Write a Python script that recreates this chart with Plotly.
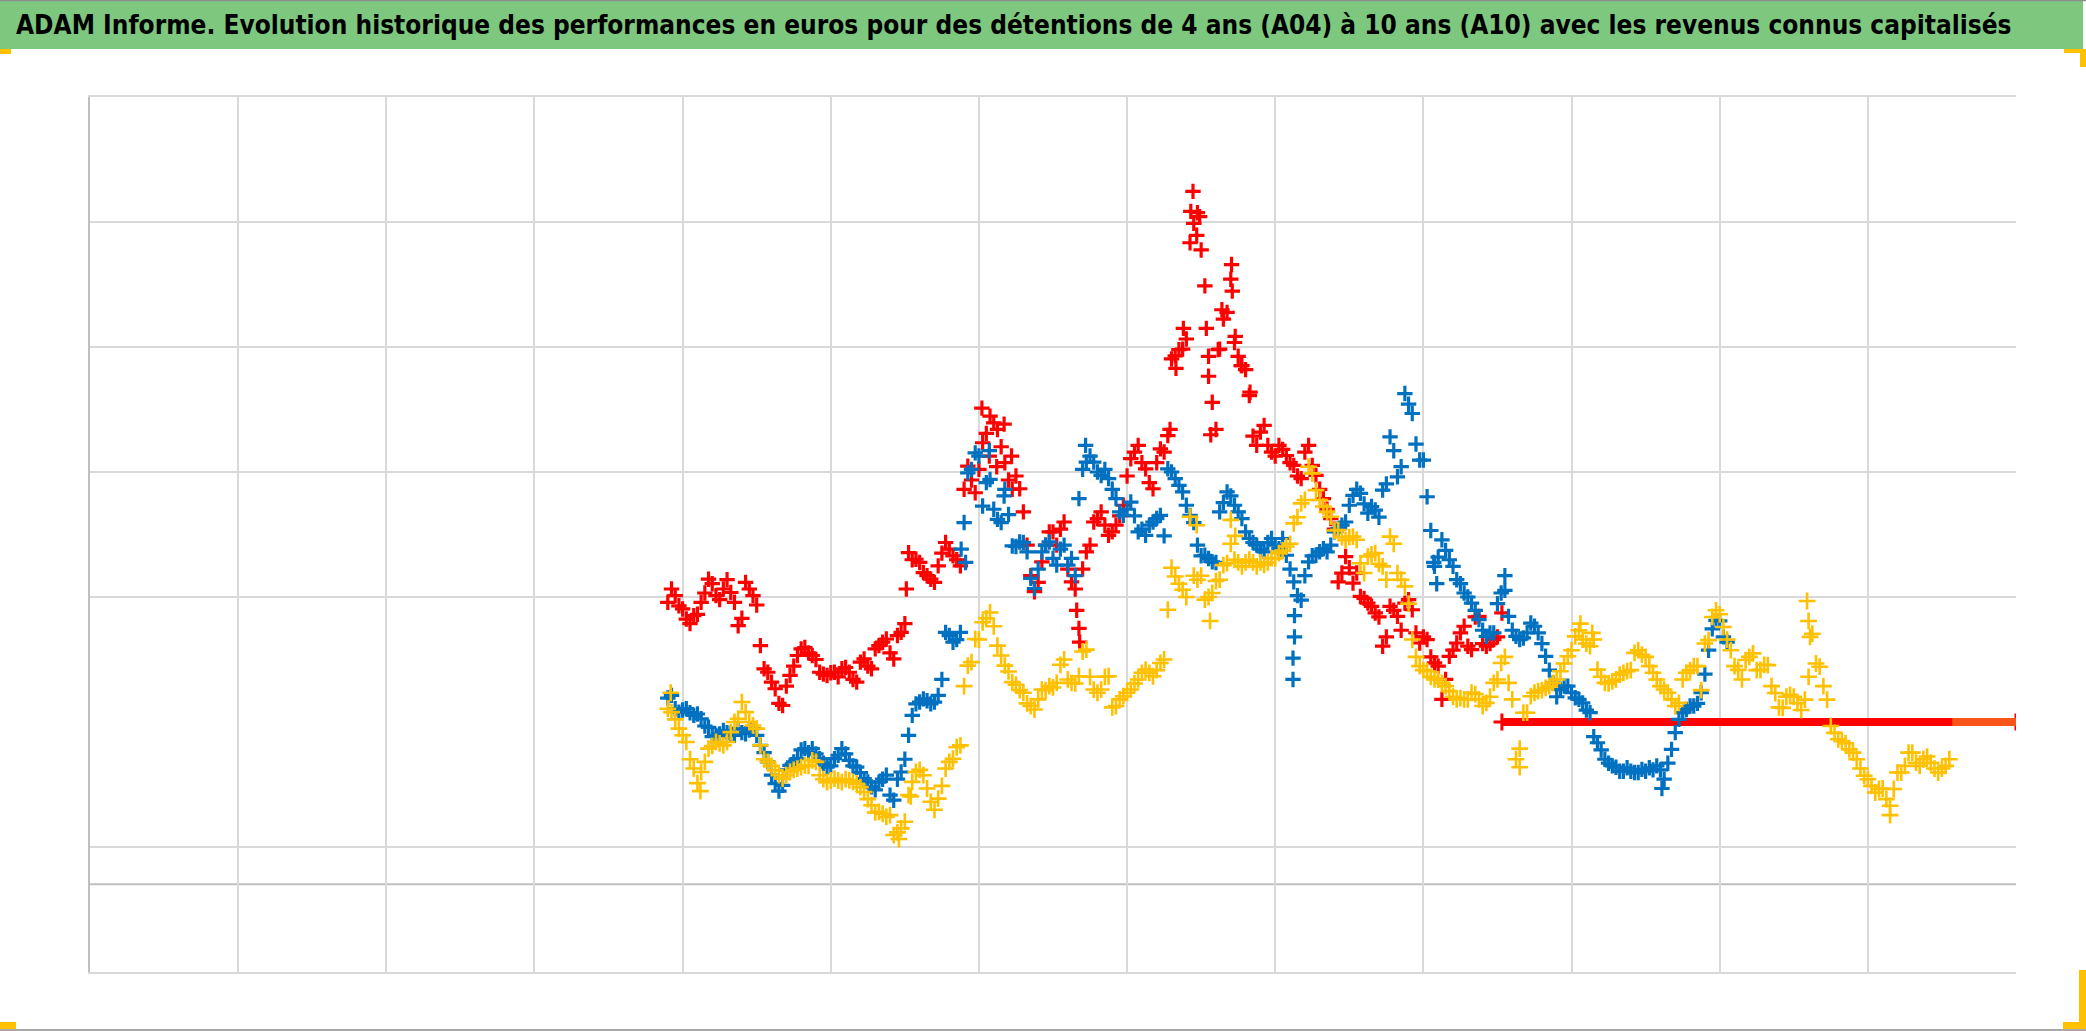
import plotly.graph_objects as go

# ---------------- data ----------------
# sample dates (every 0.05 year)
years = [
    2010.90, 2010.95,
    2011.00, 2011.05, 2011.10, 2011.15, 2011.20, 2011.25, 2011.30, 2011.35, 2011.40, 2011.45,
    2011.50, 2011.55, 2011.60, 2011.65, 2011.70, 2011.75, 2011.80, 2011.85, 2011.90, 2011.95,
    2012.00, 2012.05, 2012.10, 2012.15, 2012.20, 2012.25, 2012.30, 2012.35, 2012.40, 2012.45,
    2012.50, 2012.55, 2012.60, 2012.65, 2012.70, 2012.75, 2012.80, 2012.85, 2012.90, 2012.95,
    2013.00, 2013.05, 2013.10, 2013.15, 2013.20, 2013.25, 2013.30, 2013.35, 2013.40, 2013.45,
    2013.50, 2013.55, 2013.60, 2013.65, 2013.70, 2013.75, 2013.80, 2013.85, 2013.90, 2013.95,
    2014.00, 2014.05, 2014.10, 2014.15, 2014.20, 2014.25, 2014.30, 2014.35, 2014.40, 2014.45,
    2014.50, 2014.55, 2014.60, 2014.65, 2014.70, 2014.75, 2014.80, 2014.85, 2014.90, 2014.95,
    2015.00, 2015.05, 2015.10, 2015.15, 2015.20, 2015.25, 2015.30, 2015.35, 2015.40, 2015.45,
    2015.50, 2015.55, 2015.60, 2015.65, 2015.70, 2015.75, 2015.80, 2015.85, 2015.90, 2015.95,
    2016.00, 2016.05, 2016.10, 2016.15, 2016.20, 2016.25, 2016.30, 2016.35, 2016.40, 2016.45,
    2016.50, 2016.55, 2016.60, 2016.65, 2016.70, 2016.75, 2016.80, 2016.85, 2016.90, 2016.95,
    2017.00, 2017.05, 2017.10, 2017.15, 2017.20, 2017.25, 2017.30, 2017.35, 2017.40, 2017.45,
    2017.50, 2017.55, 2017.60, 2017.65, 2017.70, 2017.75, 2017.80, 2017.85, 2017.90, 2017.95,
    2018.00, 2018.05, 2018.10, 2018.15, 2018.20, 2018.25, 2018.30, 2018.35, 2018.40, 2018.45,
    2018.50, 2018.55, 2018.60, 2018.65, 2018.70, 2018.75, 2018.80, 2018.85, 2018.90, 2018.95,
    2019.00, 2019.05, 2019.10, 2019.15, 2019.20, 2019.25, 2019.30, 2019.35, 2019.40, 2019.45,
    2019.50, 2019.55,
]
# in-between sample dates
years_mid = [
    2010.925, 2010.975,
    2011.025, 2011.075, 2011.125, 2011.175, 2011.225, 2011.275, 2011.325, 2011.375, 2011.425, 2011.475,
    2011.525, 2011.575, 2011.625, 2011.675, 2011.725, 2011.775, 2011.825, 2011.875, 2011.925, 2011.975,
    2012.025, 2012.075, 2012.125, 2012.175, 2012.225, 2012.275, 2012.325, 2012.375, 2012.425, 2012.475,
    2012.525, 2012.575, 2012.625, 2012.675, 2012.725, 2012.775, 2012.825, 2012.875, 2012.925, 2012.975,
    2013.025, 2013.075, 2013.125, 2013.175, 2013.225, 2013.275, 2013.325, 2013.375, 2013.425, 2013.475,
    2013.525, 2013.575, 2013.625, 2013.675, 2013.725, 2013.775, 2013.825, 2013.875, 2013.925, 2013.975,
    2014.025, 2014.075, 2014.125, 2014.175, 2014.225, 2014.275, 2014.325, 2014.375, 2014.425, 2014.475,
    2014.525, 2014.575, 2014.625, 2014.675, 2014.725, 2014.775, 2014.825, 2014.875, 2014.925, 2014.975,
    2015.025, 2015.075, 2015.125, 2015.175, 2015.225, 2015.275, 2015.325, 2015.375, 2015.425, 2015.475,
    2015.525, 2015.575, 2015.625, 2015.675, 2015.725, 2015.775, 2015.825, 2015.875, 2015.925, 2015.975,
    2016.025, 2016.075, 2016.125, 2016.175, 2016.225, 2016.275, 2016.325, 2016.375, 2016.425, 2016.475,
    2016.525, 2016.575, 2016.625, 2016.675, 2016.725, 2016.775, 2016.825, 2016.875, 2016.925, 2016.975,
    2017.025, 2017.075, 2017.125, 2017.175, 2017.225, 2017.275, 2017.325, 2017.375, 2017.425, 2017.475,
    2017.525, 2017.575, 2017.625, 2017.675, 2017.725, 2017.775, 2017.825, 2017.875, 2017.925, 2017.975,
    2018.025, 2018.075, 2018.125, 2018.175, 2018.225, 2018.275, 2018.325, 2018.375, 2018.425, 2018.475,
    2018.525, 2018.575, 2018.625, 2018.675, 2018.725, 2018.775, 2018.825, 2018.875, 2018.925, 2018.975,
    2019.025, 2019.075, 2019.125, 2019.175, 2019.225, 2019.275, 2019.325, 2019.375, 2019.425, 2019.475,
    2019.525,
]

# A10 (red)
red_y = [
    45, 47.5,
    42.5, 37, 40.5, 48.5, 52, 46, 53.5, 45, 39, 50,
    44, 20, 15, 7, 13.5, 21, 27.5, 26, 23.5, 18,
    18.5, 17, 20.5, 16, 22.5, 21, 27.5, 30, 26, 32.5,
    37, 61, 60, 55, 52.5, 63.5, 65, 61, 87.5, 91,
    95, 108.5, 112.5, 103.5, 91, 92.5, 79, 55, 52.5, 66.5,
    71.5, 72.5, 57.5, 50, 57.5, 66.5, 76.5, 74, 71.5, 77.5,
    92.5, 101.5, 97.5, 90, 97.5, 101.5, 136.5, 140, 144, 187.5,
    177.5, 137.5, 110, 151.5, 166.5, 137.5, 132.5, 107.5, 109, 104,
    100, 102.5, 97.5, 92.5, 101.5, 96.5, 87.5, 80, 72.5, 56,
    58, 56, 46.5, 43.5, 39.5, 32, 42, 34.5, 46, 33.5,
    32, 24.5, 21, 16, 27, 33.5, 28.5, 39.5, 29.5, 29.5,
    32,
]
red_mid_y = [
    50, 43.7,
    38.7, 40, 45, 53.7, 47.5, 50, 48.7, 36.2, 52.5, 47.5,
    28.7, 18.7, 12.5, 6.2, 17.5, 25, 28, 25, 18.7, 17.5,
    18.7, 20, 18.7, 15, 23.7, 20, 28.7, 31.2, 23.7, 33.7,
    63.7, 61.2, 56.2, 53.7, 58.7, 67.5, 62.5, 58.7, 96.2, 86.2,
    105, 115, 110, 97.5, 87.5, 87.7, 66.5, 49, 60.2, 71.5,
    66.5, 75.2, 52.7, 35.2, 64, 75.2, 79, 70.2, 74, 81.5,
    99, 104, 95.2, 87.7, 102.7, 107.7, 137.7, 140.2, 180.2, 191.5,
    164, 120.2, 140.2, 154, 142.7, 134, 122.7, 104, 111.5, 101.5,
    104, 100.2, 96.5, 91.5, 104, 92.7, 84, 76.5, 52.7, 62.2,
    52.2, 47.2, 44.7, 41, 28.5, 43.5, 39.7, 44.7, 42.2, 29.7,
    31, 22.2, 8.5, 24.7, 29.7, 36, 27.2, 39.7, 28.5, 31,
]
red_extra_x = [2012.51, 2013.02, 2013.07, 2013.12, 2013.17, 2013.22, 2013.66, 2013.68,
               2014.29, 2014.33, 2014.38, 2014.43, 2014.445, 2014.47, 2014.49,
               2014.535, 2014.55, 2014.565, 2014.615, 2014.64, 2014.705,
               2014.71, 2014.73, 2014.77, 2014.83, 2016.53]
red_extra_y = [50, 118, 100, 96, 112, 100, 42, 30,
               110, 133, 148, 192, 199.5, 183, 190,
               148, 130, 108, 140, 155, 172,
               162, 145, 134, 124, 41]
red_flat_x = [2016.53, 2020.0]
red_flat_y = [0, 0]

# A07 (blue)
blue_y = [
    9, 5,
    4.5, 3.5, 3, -1.5, -5.5, -4.5, -4, -5, -4, -3,
    -5, -11.5, -20, -26, -18, -15, -10.5, -11.5, -12, -15.5,
    -16.5, -12.5, -12, -16.5, -19, -22.5, -25.5, -21.5, -27.5, -21.5,
    -14, 2.5, 7.5, 8, 7.5, 16, 32.5, 31, 75, 95,
    100, 90, 80, 75, 78, 66, 67.5, 54, 57.5, 66.5,
    61.5, 65, 59, 55, 95, 100, 94, 95, 87.5, 79,
    80, 77.5, 72.5, 74, 76.5, 70, 94, 89, 81.5, 75,
    62.5, 61.5, 60, 82.5, 85, 79, 71.5, 67.5, 65, 67.5,
    66.5, 69, 57.5, 47.5, 55, 62.5, 64, 64, 71.5, 74,
    81.5, 87.5, 82, 81, 77, 89.5, 102, 96, 119.5, 104.5,
    98.5, 72, 62, 64.5, 58.5, 52, 47, 42, 34.5, 33.5,
    44.5, 49.5, 34.5, 31, 33.5, 36, 29.5, 19.5, 9.5, 13.5,
    11, 8.5, 4.5, -5.5, -10.5, -15.5, -17, -18.5, -18.5, -19,
    -18.5, -18, -18, -15.5, -4, 3.5, 6, 7, 18, 35,
    38, 30,
]
blue_mid_y = [
    10, 3.7,
    5, 2.5, 1.2, -2, -5, -3.2, -4.4, -2.5, -4.4, -2.5,
    -8.8, -15, -23.2, -23.8, -16.3, -13.8, -10, -10, -13.8, -17,
    -13.8, -10, -14.4, -17, -21.3, -24.4, -22.6, -20, -29.4, -18.8,
    -5, 6.8, 8.7, 6.8, 10, 33.7, 30, 33.7, 93.7, 101.2,
    81.2, 91.2, 76.2, 87.5, 66.2, 67.7, 64, 50.2, 64, 67.7,
    59, 66.5, 61.5, 84, 97.7, 97.7, 92.7, 91.5, 84, 77.7,
    82.7, 71.5, 70.2, 75.2, 77.7, 95.2, 91.5, 86.5, 77.7, 66.5,
    62.7, 60.2, 79, 86.5, 81.5, 76.5, 69, 66.5, 64, 69,
    65.2, 62.7, 52.7, 45.8, 60.2, 62.7, 65.2, 66.5, 72.7, 75.2,
    85.2, 86, 78.5, 79.7, 87.2, 107.2, 92.2, 123.5, 116, 98.5,
    84.7, 58.5, 68.5, 61, 53.5, 48.5, 44.7, 38.5, 32.2, 33.5,
    48.5, 39.7, 32.2, 31.6, 37.2, 33.5, 24.7, 14.7, 12.2, 13.5,
    9.1, 7.2, 3.5, -7.8, -14, -16.5, -18.5, -17.2, -19, -17.8,
    -17.2, -16.5, -21.5, -10.3, 1, 4.7, 6, 11, 27, 38.2,
    32,
]
blue_extra_x = [2012.88, 2012.91, 2013.07, 2013.17, 2013.72, 2015.12, 2015.12, 2015.13, 2015.13,
                2016.07, 2016.09, 2016.55, 2017.61]
blue_extra_y = [65, 60, 102, 85, 104, 16, 24, 32, 40,
                60, 52, 55, -25]

# A04 (yellow)
yellow_y = [
    5, 1,
    -5, -14, -23, -15, -9, -8, -7.5, 0, 7.5, 0,
    -2.5, -14, -16.5, -20, -20, -18, -17, -16.5, -15, -21.5,
    -22, -22, -21.5, -22.5, -24.5, -29, -34, -34.5, -35, -41.5,
    -37.5, -22.5, -18, -25, -33, -24, -15, -9.5, 13.5, 22.5,
    31, 39, 36, 25, 19, 14, 11, 6, 8.5, 12,
    13, 21.5, 16, 14.5, 26.5, 17, 11, 17, 5.5, 8.5,
    11, 14.5, 18.5, 18.5, 19.5, 23.5, 58, 52, 47, 55,
    55, 47, 53, 59, 67, 60, 60, 60, 60, 60,
    61.5, 64.5, 67, 77, 83.5, 93.5, 83.5, 79, 72, 69.5,
    69.5, 68.5, 56, 63, 59.5, 53.5, 67, 53.5, 44.5, 24.5,
    19.5, 17, 16, 13.5, 9.5, 9, 8.5, 10.5, 6, 9.5,
    16, 24.5, 8.5, -10, 3.5, 11, 12, 13.5, 16, 22,
    27, 34.5, 29.5, 31, 17, 14.5, 16, 18.5, 19.5, 27,
    24.5, 18.5, 13.5, 11, 6, 16, 19.5, 21, 29.5, 39.5,
    40.5, 31, 21, 16, 24.5, 19.5, 21.5, 13.5, 5.5, 9.5,
    9.5, 4.5, 17, 22, 13.5, -1.5, -6.5, -8, -11.5, -17.5,
    -21.5, -26.5, -25, -31.5, -19, -16.5, -11.5, -16.5, -13, -17.5,
    -17.5, -14,
]
yellow_mid_y = [
    3.7, -2.5,
    -7.5, -17.5, -18.8, -10, -7.5, -8.8, -3.8, 1.2, 3.7, -1.3,
    -8.8, -15, -18.2, -21.3, -18.8, -17.5, -16.3, -14.4, -20, -22.6,
    -21.3, -22.6, -21.9, -23.2, -26.3, -31.3, -33.8, -35.7, -42.5, -40,
    -27.5, -18.8, -20, -30, -28.8, -17.5, -13.8, -8.8, 21.2, 31.2,
    37.5, 41.2, 28.7, 21.2, 15, 12, 7, 4.7, 12.2, 13.5,
    14.7, 23.5, 14.7, 17.2, 27.2, 12.2, 12.2, 17.2, 6, 9.7,
    12.2, 16, 19.7, 17.2, 22.2, 42.2, 54.7, 49.7, 77.2, 53.5,
    46, 48.5, 53.5, 59.7, 61, 58.5, 61, 58.5, 59.1, 61.6,
    63.5, 66, 74.7, 82.2, 96, 87.2, 81, 77.2, 72.2, 68.4,
    69.7, 59.7, 62.2, 63.5, 58.5, 69.7, 56, 51, 31, 21,
    19.1, 16, 14.7, 11.6, 8.5, 8.5, 11, 8.5, 7.2, 14.7,
    22.2, 14.7, -14, 3.5, 9.7, 11.6, 12.8, 14.7, 19.1, 24.7,
    32.2, 31, 28.5, 19.7, 14.7, 15.3, 17.8, 19.1, 26, 25.3,
    21, 16, 12.2, 8.5, 7.2, 18.5, 21, 12, 30.8, 42,
    35.7, 27, 19.6, 23.3, 25.8, 19.6, 21.4, 10.9, 5.3, 10.2,
    7.1, 8.4, 33.2, 20.8, 8.4, -4.1, -7.2, -10.3, -14, -20.2,
    -24, -25.2, -29, -25.2, -19, -11.5, -15.3, -14, -15.3, -19,
    -16.5,
]
yellow_extra_x = [2010.92, 2011.12, 2012.46, 2012.54, 2014.47, 2014.56, 2014.70, 2014.73,
                  2016.65, 2017.06, 2017.14, 2018.59, 2018.60, 2018.61, 2019.15]
yellow_extra_y = [11, -26, -44, -28, 74, 38, 76, 70,
                  -17, 37, 33.5, 45.5, 38, 32, -35]
yellow_flat_x = [2019.57, 2020.0]
yellow_flat_y = [0, 0]

RED, BLUE, YELLOW = "#FF0000", "#0070C0", "#FFC000"

title_text = ("ADAM Informe. Evolution historique des performances en euros pour des détentions "
              "de 4 ans (A04) à 10 ans (A10) avec les revenus connus capitalisés")

# ---------------- figure ----------------
W, H = 2086, 1031
ML, MR, MT, MB = 90, 70, 97, 59
PW, PH = W - ML - MR, H - MT - MB


def px(xp):
    return (xp - ML) / PW


def py(yp):
    return (H - MB - yp) / PH


def cross(color, width, size=11):
    return dict(symbol="cross-thin", size=size, color=color, line=dict(color=color, width=width))


def series(n_main, n_mid, ys, ys_mid, ex_x, ex_y):
    return years[:n_main] + years_mid[:n_mid] + ex_x, ys + ys_mid + ex_y


fig = go.Figure()
fig.add_trace(go.Scatter(x=red_flat_x, y=red_flat_y, mode="lines+markers",
                         line=dict(color=RED, width=8), marker=cross(RED, 3, 12),
                         hoverinfo="skip"))
rx, ry = series(len(red_y), len(red_mid_y), red_y, red_mid_y, red_extra_x, red_extra_y)
fig.add_trace(go.Scatter(x=rx, y=ry, mode="markers", marker=cross(RED, 3.2), name="A10"))
bx, by = series(len(blue_y), len(blue_mid_y), blue_y, blue_mid_y, blue_extra_x, blue_extra_y)
fig.add_trace(go.Scatter(x=bx, y=by, mode="markers", marker=cross(BLUE, 3.2), name="A07"))
yx, yy = series(len(yellow_y), len(yellow_mid_y), yellow_y, yellow_mid_y, yellow_extra_x, yellow_extra_y)
fig.add_trace(go.Scatter(x=yx, y=yy, mode="markers", marker=cross(YELLOW, 2.6, 12), name="A04"))
fig.add_trace(go.Scatter(x=yellow_flat_x, y=yellow_flat_y, mode="lines",
                         line=dict(color="#F9541A", width=8), hoverinfo="skip"))

shapes = [
    dict(type="rect", xref="paper", yref="paper", x0=px(0), x1=px(2083), y0=py(49), y1=py(0),
         fillcolor="#7DC87E", line=dict(width=0), layer="below"),
    dict(type="line", xref="paper", yref="paper", x0=px(0), x1=px(2086), y0=py(0.5), y1=py(0.5),
         line=dict(color="#8C8C8C", width=1.5)),
    dict(type="line", xref="paper", yref="paper", x0=px(0), x1=px(2086), y0=py(1030), y1=py(1030),
         line=dict(color="#8C8C8C", width=1.5)),
    dict(type="line", xref="paper", yref="y", x0=0, x1=1, y0=-61, y1=-61,
         line=dict(color="#BFBFBF", width=2), layer="below"),
    dict(type="rect", xref="paper", yref="paper", x0=px(0), x1=px(11), y0=py(54), y1=py(49),
         fillcolor=YELLOW, line=dict(width=0)),
    dict(type="rect", xref="paper", yref="paper", x0=px(0), x1=px(16), y0=py(1029), y1=py(1022),
         fillcolor=YELLOW, line=dict(width=0)),
    dict(type="rect", xref="paper", yref="paper", x0=px(2064), x1=px(2086), y0=py(53), y1=py(49),
         fillcolor=YELLOW, line=dict(width=0)),
    dict(type="rect", xref="paper", yref="paper", x0=px(2080), x1=px(2086), y0=py(67), y1=py(49),
         fillcolor=YELLOW, line=dict(width=0)),
    dict(type="rect", xref="paper", yref="paper", x0=px(2079), x1=px(2086), y0=py(1029), y1=py(970),
         fillcolor=YELLOW, line=dict(width=0)),
    dict(type="rect", xref="paper", yref="paper", x0=px(2063), x1=px(2086), y0=py(1029), y1=py(1022),
         fillcolor=YELLOW, line=dict(width=0)),
]

fig.update_layout(
    width=W, height=H,
    margin=dict(l=ML, r=MR, t=MT, b=MB, pad=0),
    paper_bgcolor="white", plot_bgcolor="white",
    showlegend=False,
    title=dict(text=title_text, x=16 / W, xanchor="left", y=1 - 25 / H, yanchor="middle",
               xref="container", yref="container",
               font=dict(family="Liberation Sans Narrow, DejaVu Sans Condensed, Arial Narrow, sans-serif",
                         size=26, color="black", weight="bold")),
    shapes=shapes,
    xaxis=dict(range=[2007, 2020], tickmode="array",
               tickvals=[2008, 2009, 2010, 2011, 2012, 2013, 2014, 2015, 2016, 2017, 2018, 2019],
               showticklabels=False, ticks="", showgrid=True, gridcolor="#D9D9D9", gridwidth=1.5,
               zeroline=False, showline=True, linecolor="#D9D9D9", linewidth=1.5, mirror=True),
    yaxis=dict(range=[-94, 235], tickmode="array", tickvals=[-47, 47, 94, 141, 188],
               showticklabels=False, ticks="", showgrid=True, gridcolor="#D9D9D9", gridwidth=1.5,
               zeroline=False, showline=True, linecolor="#BFBFBF", linewidth=2, mirror=False),
)

fig.write_html("out.html", config={"displayModeBar": False},
               post_script="document.body.style.margin='0';document.body.style.overflow='hidden';")
